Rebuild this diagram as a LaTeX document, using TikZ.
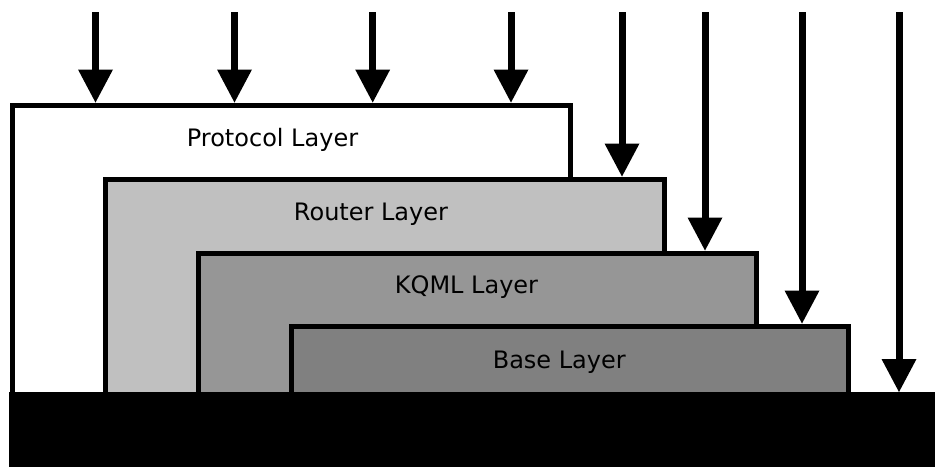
\documentclass[tikz,border=0pt]{standalone}
\usepackage{fontspec}
\setmainfont{DejaVu Sans}
\usetikzlibrary{arrows.meta}
\definecolor{routergray}{HTML}{C0C0C0}
\definecolor{kqmlgray}{HTML}{969696}
\definecolor{basegray}{HTML}{808080}
\tikzset{
  layerbox/.style={draw=black, line width=5pt, rectangle, inner sep=0pt},
  ground/.style={fill=black, rectangle, inner sep=0pt, outer sep=0pt},
  feed/.style={line width=7pt, -{Triangle[width=35pt,length=33pt,line width=0pt]}},
  layerlabel/.style={font=\fontsize{24pt}{28pt}\selectfont, anchor=base, inner sep=0pt}
}
\begin{document}
\begin{tikzpicture}[x=1pt,y=-1pt]
  \useasboundingbox (0,0) rectangle (935,467);

  % stacked layers, each one drawn over the previous
  \node[layerbox, fill=white,      minimum width=558pt,   minimum height=295pt] (proto)  at (291.5,252.5) {};
  \node[layerbox, fill=routergray, minimum width=558.5pt, minimum height=221pt] (router) at (384.75,289.5) {};
  \node[layerbox, fill=kqmlgray,   minimum width=558pt,   minimum height=147pt] (kqml)   at (477,326.5) {};
  \node[layerbox, fill=basegray,   minimum width=557pt,   minimum height=74pt]  (base)   at (569.5,363) {};

  % solid foundation
  \node[ground, minimum width=926pt, minimum height=75pt] (floor) at (472,429.5) {};

  % labels
  \node[layerlabel] (tproto)  at (272.5,146)   {Protocol Layer};
  \node[layerlabel] (trouter) at (371,220.7)   {Router Layer};
  \node[layerlabel] (tkqml)   at (466.5,293.3) {KQML Layer};
  \node[layerlabel] (tbase)   at (559.3,368.3) {Base Layer};

  % incoming requests
  \coordinate (a1) at (95.5,12);
  \coordinate (a2) at (234.5,12);
  \coordinate (a3) at (372.7,12);
  \coordinate (a4) at (511,12);
  \coordinate (a5) at (622,12);
  \coordinate (a6) at (705,12);
  \coordinate (a7) at (802,12);
  \coordinate (a8) at (899,12);

  \draw[feed] (a1) -- (a1 |- proto.north);
  \draw[feed] (a2) -- (a2 |- proto.north);
  \draw[feed] (a3) -- (a3 |- proto.north);
  \draw[feed] (a4) -- (a4 |- proto.north);
  \draw[feed] (a5) -- (a5 |- router.north);
  \draw[feed] (a6) -- (a6 |- kqml.north);
  \draw[feed] (a7) -- (a7 |- base.north);
  \draw[feed] (a8) -- (a8 |- floor.north);
\end{tikzpicture}
\end{document}
